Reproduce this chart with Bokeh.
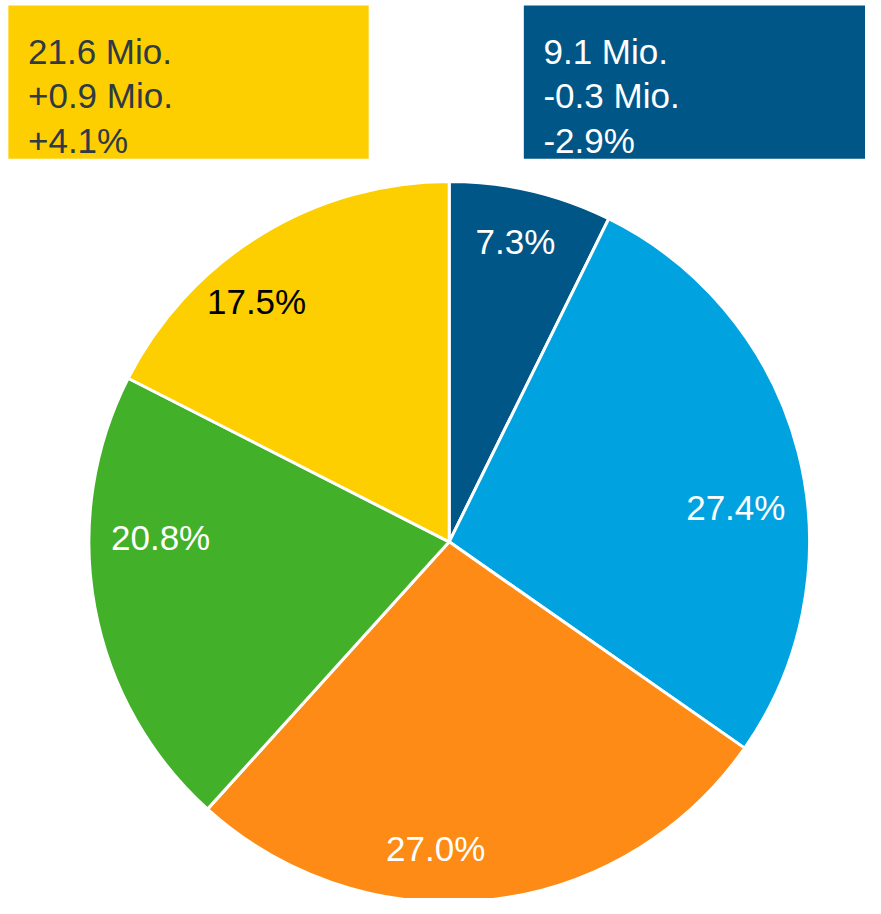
import math
from bokeh.plotting import figure
from bokeh.models import Range1d, ColumnDataSource
from bokeh.core.properties import value
from bokeh.embed import file_html
from bokeh.resources import INLINE

# ---- data ----
shares = [7.3, 27.4, 27.0, 20.8, 17.5]
share_labels = ["7.3%", "27.4%", "27.0%", "20.8%", "17.5%"]
colors = ["#005687", "#00A3E0", "#FD8B15", "#43B02A", "#FECF00"]
label_colors = ["#FFFFFF", "#FFFFFF", "#FFFFFF", "#FFFFFF", "#000000"]

yellow_lines = ["21.6 Mio.", "+0.9 Mio.", "+4.1%"]
blue_lines = ["9.1 Mio.", "-0.3 Mio.", "-2.9%"]

# ---- layout (reference-pixel frame 881 x 914, pie radius = 1 unit) ----
W, H = 865, 898
REF_W, REF_H = 881.0, 914.0
PX = 367.0                      # reference pixels per data unit
cx_px, cy_px = 457.0, 551.0     # pie centre in reference pixels
label_radius = [0.853, 0.801, 0.851, 0.801, 0.855]
label_nudge_deg = [0.7, -7.6, -9.0, -11.3, 7.2]
FONT = value("Liberation Sans")
FSIZE = "35px"

def X(px):
    return (px - cx_px) / PX

def Y(py):
    return (cy_px - py) / PX

p = figure(width=W, height=H, output_backend="svg", toolbar_location=None,
           x_axis_type=None, y_axis_type=None, min_border=0,
           x_range=Range1d(X(0), X(REF_W)), y_range=Range1d(Y(REF_H), Y(0)))
p.outline_line_color = None
p.grid.visible = False
p.background_fill_color = "white"

# wedges, clockwise from 12 o'clock
total = sum(shares)
starts, ends, mids = [], [], []
cum = 0.0
for s in shares:
    a0 = math.pi / 2 - 2 * math.pi * (cum + s) / total
    a1 = math.pi / 2 - 2 * math.pi * cum / total
    starts.append(a0)
    ends.append(a1)
    mids.append((a0 + a1) / 2)
    cum += s

src = ColumnDataSource(dict(start=starts, end=ends, color=colors))
p.wedge(x=0, y=0, radius=1.0, start_angle="start", end_angle="end",
        fill_color="color", line_color="white", line_width=3, source=src)

lx, ly = [], []
for m, r, n in zip(mids, label_radius, label_nudge_deg):
    a = m + math.radians(n)
    lx.append(r * math.cos(a))
    ly.append(r * math.sin(a))
lsrc = ColumnDataSource(dict(x=lx, y=ly, t=share_labels, c=label_colors))
p.text(x="x", y="y", text="t", text_color="c", source=lsrc,
       text_font=FONT, text_font_size=FSIZE,
       text_align="center", text_baseline="middle")

# info boxes
box_top = Y(5)
box_bot = Y(161)
p.quad(left=[X(8)], right=[X(375)], top=[box_top], bottom=[box_bot],
       fill_color=colors[4], line_color=None)
p.quad(left=[X(533)], right=[X(885)], top=[box_top], bottom=[box_bot],
       fill_color=colors[0], line_color=None)

baselines = [Y(52), Y(97), Y(142)]
p.text(x=[X(28)] * 3, y=baselines, text=yellow_lines, text_color="#2E3A44",
       text_font=FONT, text_font_size=FSIZE,
       text_align="left", text_baseline="alphabetic")
p.text(x=[X(553)] * 3, y=baselines, text=blue_lines, text_color="#FFFFFF",
       text_font=FONT, text_font_size=FSIZE,
       text_align="left", text_baseline="alphabetic")

open("out.html", "w").write(file_html(p, INLINE))
